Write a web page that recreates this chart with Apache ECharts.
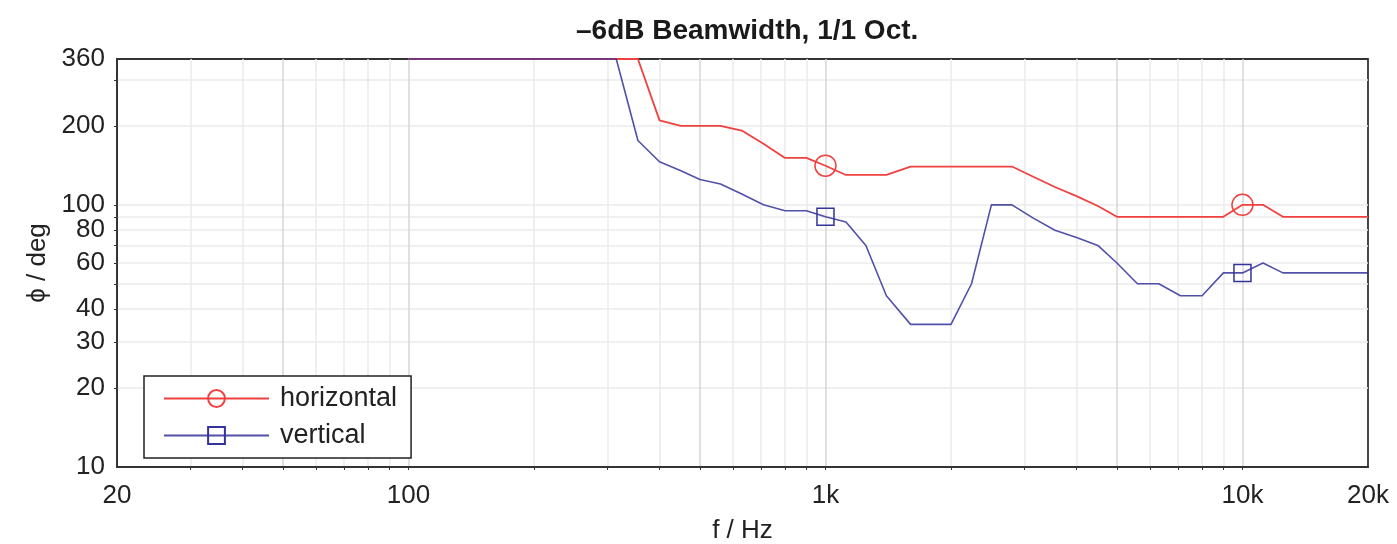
<!DOCTYPE html>
<html>
<head>
<meta charset="utf-8">
<script src="https://cdn.jsdelivr.net/npm/echarts@6/dist/echarts.min.js"></script>
<style>
html,body{margin:0;padding:0;background:#fff;}
#c{width:1397px;height:544px;}
</style>
</head>
<body>
<div id="c"></div>
<script>
// ---- data ----
const freqs = [100,112,125,140,160,180,200,224,250,280,315,355,400,450,500,560,630,710,800,900,
  1000,1120,1250,1400,1600,1800,2000,2240,2500,2800,3150,3550,4000,4500,5000,5600,6300,7100,8000,9000,
  10000,11200,12500,14000,16000,18000,20000];
const horizontal = [360,360,360,360,360,360,360,360,360,360,360,360,210,200,200,200,192,171,151,151,
  141,130,130,130,140,140,140,140,140,140,128,117,108,99,90,90,90,90,90,90,
  100,100,90,90,90,90,90];
const vertical = [360,360,360,360,360,360,360,360,360,360,360,176,146,135,125,120,110,100,95,95,
  90,86,70,45,35,35,35,50,100,100,89,80,75,70,60,50,50,45,45,55,
  55,60,55,55,55,55,55];
const markerFreqs = [1000, 10000];
const xTickLabels = [20, 100, 1000, 10000, 20000];
const xGridLight = [30,40,60,70,80,90,200,300,400,600,700,800,900,2000,3000,4000,6000,7000,8000,9000];
const xGridDark = [50,100,500,1000,5000,10000];
const yTickLabels = [10,20,30,40,60,80,100,200,360];
const yGrid = [20,30,40,50,60,70,80,90,100,200,300];

const seriesNames = ['horizontal','vertical'];
const FONT = '"Liberation Sans", Arial, Helvetica, sans-serif';

function fmtHz(v){
  if (v >= 1000) return (v/1000) + 'k';
  return String(v);
}
function mkData(vals){
  return freqs.map((f,i)=>({
    value:[f, vals[i]],
    symbol: markerFreqs.indexOf(f) >= 0 ? undefined : 'none'
  }));
}

const chart = echarts.init(document.getElementById('c'), null, {renderer:'canvas'});
chart.setOption({
  animation:false,
  backgroundColor:'#fff',
  title:{
    text:'\u20136dB Beamwidth, 1/1 Oct.',
    left:571, top:12,
    textStyle:{fontFamily:FONT, fontSize:28, fontWeight:'bold', color:'#1a1a1a'}
  },
  grid:{left:117, right:29, top:59, bottom:77, show:true, borderColor:'#333', borderWidth:1.8,
    backgroundColor:'transparent', containLabel:false, outerBoundsMode:'none'},
  legend:{
    orient:'vertical',
    left:144, top:376,
    itemWidth:105, itemHeight:21, itemGap:10,
    padding:[9,14,9,19],
    borderColor:'#222', borderWidth:1.5, backgroundColor:'#fff',
    textStyle:{fontFamily:FONT, fontSize:27, color:'#222', padding:[0,0,0,6]},
    data:seriesNames
  },
  xAxis:[{
    type:'log', logBase:10, min:20, max:20000,
    name:'f / Hz', nameLocation:'middle', nameGap:51,
    nameTextStyle:{fontFamily:FONT, fontSize:26, color:'#222'},
    axisLine:{show:true, lineStyle:{color:'#333', width:1.8}},
    axisTick:{show:true, inside:false, length:3, lineStyle:{color:'#333'}, customValues:xGridLight},
    axisLabel:{fontFamily:FONT, fontSize:26, color:'#222', margin:16, customValues:xTickLabels, formatter:fmtHz, showMinLabel:true, showMaxLabel:true},
    splitLine:{show:true, lineStyle:{color:'#ebebeb', width:1.5}},
    minorTick:{show:false}, minorSplitLine:{show:false}
  },{
    type:'log', logBase:10, min:20, max:20000, position:'bottom',
    axisLine:{show:false},
    axisTick:{show:true, length:3, lineStyle:{color:'#333'}, customValues:xGridDark},
    axisLabel:{show:false},
    splitLine:{show:true, lineStyle:{color:'#d6d6d6', width:1.5}}
  }],
  yAxis:{
    type:'log', logBase:10, min:10, max:360,
    name:'\u03d5 / deg', nameLocation:'middle', nameGap:66, nameRotate:90,
    nameTextStyle:{fontFamily:FONT, fontSize:26, color:'#222'},
    axisLine:{show:true, lineStyle:{color:'#333', width:1.8}},
    axisTick:{show:true, length:3, lineStyle:{color:'#333'}, customValues:yGrid},
    axisLabel:{fontFamily:FONT, fontSize:26, color:'#222', margin:12, customValues:yTickLabels, showMinLabel:true, showMaxLabel:true},
    splitLine:{show:true, lineStyle:{color:'#ebebeb', width:1.5}}
  },
  series:[{
    name:seriesNames[0], type:'line', xAxisIndex:0,
    data:mkData(horizontal), clip:false,
    symbol:'circle', symbolSize:21, showSymbol:true,
    itemStyle:{color:'rgba(0,0,0,0)', borderColor:'#f04040', borderWidth:1.5},
    lineStyle:{color:'#f04040', width:1.8},
    emphasis:{disabled:true}, z:3
  },{
    name:seriesNames[1], type:'line', xAxisIndex:0,
    data:mkData(vertical), clip:false,
    symbol:'rect', symbolSize:17, showSymbol:true,
    itemStyle:{color:'rgba(0,0,0,0)', borderColor:'#33339a', borderWidth:1.5},
    lineStyle:{color:'#33339a', width:1.6, opacity:0.85},
    emphasis:{disabled:true}, z:4
  }]
});
</script>
</body>
</html>
